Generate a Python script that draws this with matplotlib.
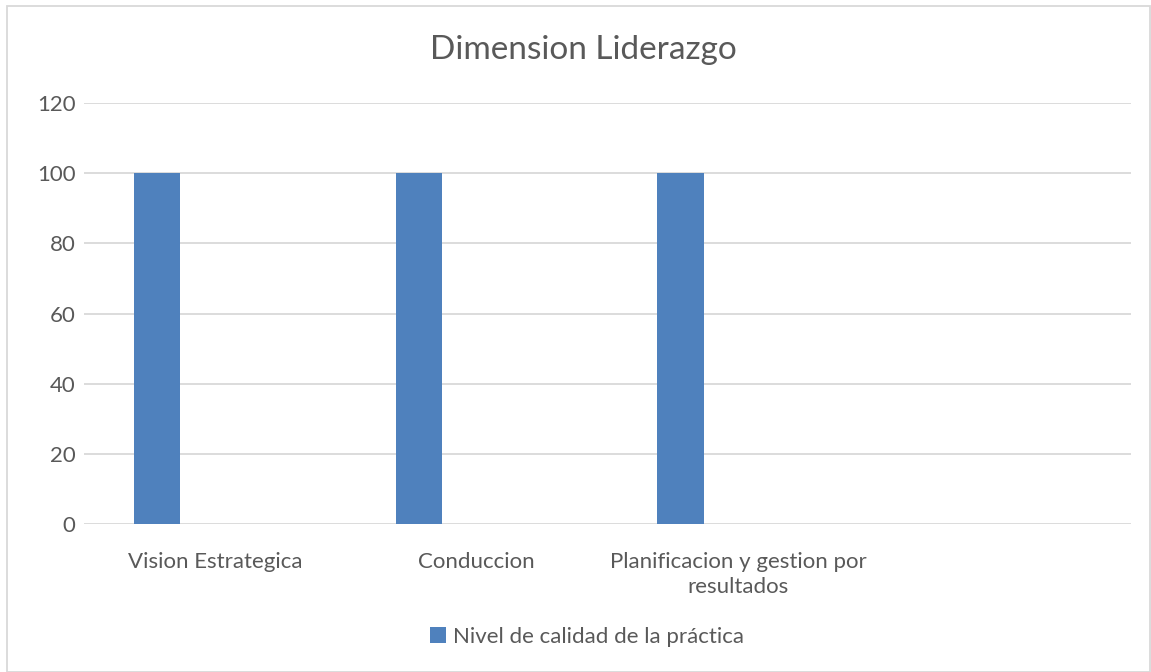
import numpy as np
import matplotlib.pyplot as plt
from matplotlib.patches import Rectangle

categorias = ["Vision Estrategica", "Conduccion", "Planificacion y gestion por\nresultados", ""]
nivel = [100, 100, 100, 0]
serie = "Nivel de calidad de la práctica"
titulo = "Dimension Liderazgo"
yticks = [0, 20, 40, 60, 80, 100, 120]

gris = "#595959"
plt.rcParams['font.family'] = ['Lato', 'DejaVu Sans']

fig = plt.figure(figsize=(11.51, 6.72), dpi=100)
ax = fig.add_axes([84 / 1151, 1 - 524 / 672, (1131 - 84) / 1151, (524 - 103) / 672])

x = np.arange(len(categorias))
ax.bar(x - 0.221, nivel, width=0.176, color="#4F81BD", label=serie, zorder=3)

ax.set_xlim(-0.5, len(categorias) - 0.5)
ax.set_ylim(0, 120)
ax.set_yticks(yticks)
ax.set_yticklabels([str(v) for v in yticks], fontsize=16, color=gris)
ax.set_xticks(x)
ax.set_xticklabels(categorias, fontsize=16, color=gris, linespacing=1.35)
ax.tick_params(axis='both', length=0)
ax.tick_params(axis='x', pad=20)
ax.tick_params(axis='y', pad=6)
ax.grid(axis='y', color="#D9D9D9", linewidth=1.3, zorder=0)
for s in ax.spines.values():
    s.set_visible(False)

fig.text(0.507, 1 - 50 / 672, titulo, fontsize=24, color=gris, ha='center', va='center')

leg = fig.legend(loc='center', bbox_to_anchor=(0.51, 1 - 637 / 672), frameon=False,
                 fontsize=16, handlelength=0.7, handleheight=0.7, handletextpad=0.3)
for t in leg.get_texts():
    t.set_color(gris)

# borde del grafico
fig.patches.append(Rectangle((7 / 1151, 0.0), 1 - 8 / 1151, 1 - 6 / 672, transform=fig.transFigure,
                             fill=False, edgecolor="#D9D9D9", linewidth=1.3))

fig.savefig("out.png", dpi=100)
